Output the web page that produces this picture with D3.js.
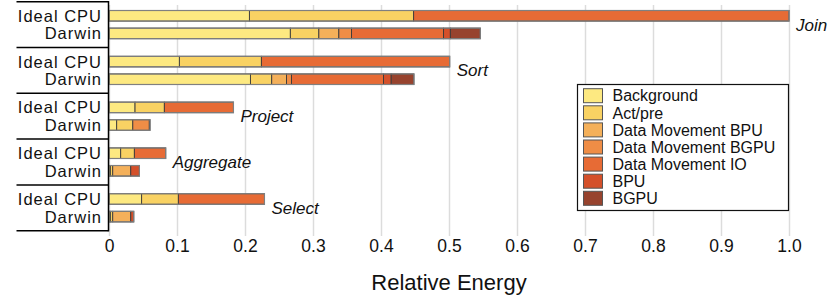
<!DOCTYPE html>
<html>
<head>
<meta charset="utf-8">
<script src="https://cdnjs.cloudflare.com/ajax/libs/d3/7.8.5/d3.min.js"></script>
<style>
  body { margin: 0; background: #fff; }
  svg { display: block; font-family: "Liberation Sans", Arimo, Helvetica, Arial, sans-serif; }
</style>
</head>
<body>
<div id="chart"></div>
<script>
// groups and the two systems per group
var groups = ["Join", "Sort", "Project", "Aggregate", "Select"];
var systems = ["Ideal CPU", "Darwin"];
var categories = ["Background", "Act/pre", "Data Movement BPU", "Data Movement BGPU",
                  "Data Movement IO", "BPU", "BGPU"];
var colors = ["#fde981", "#f9d263", "#f4b05a", "#ef8d46", "#e76b35", "#d4502a", "#97432e"];
var ticks = [0, 0.1, 0.2, 0.3, 0.4, 0.5, 0.6, 0.7, 0.8, 0.9, 1.0];

// one value per bar, order: Join Ideal, Join Darwin, Sort Ideal, Sort Darwin, ...
var background   = [0.2065, 0.2667, 0.1035, 0.208,  0.0383, 0.0113, 0.0172, 0.002,  0.048,  0.002];
var actPre       = [0.2415, 0.0419, 0.1206, 0.0313, 0.0431, 0.0237, 0.0201, 0.0035, 0.054,  0.0035];
var dmBPU        = [0,      0.0294, 0,      0.0217, 0,      0,      0,      0.0265, 0,      0.0265];
var dmBGPU       = [0,      0.0187, 0,      0.0073, 0,      0.0243, 0,      0,      0,      0];
var dmIO         = [0.552,  0.1353, 0.2769, 0.1354, 0.1016, 0,      0.0461, 0,      0.1266, 0];
var bpu          = [0,      0.010,  0,      0.0113, 0,      0.001,  0,      0.0127, 0,      0.0044];
var bgpu         = [0,      0.044,  0,      0.0334, 0,      0,      0,      0,      0,      0];

var series = [background, actPre, dmBPU, dmBGPU, dmIO, bpu, bgpu];

var width = 830, height = 299;
var svg = d3.select("#chart").append("svg")
  .attr("width", width)
  .attr("height", height);

// rows built from the arrays above
var rows = [];
groups.forEach(function(g, gi) {
  systems.forEach(function(s, si) {
    var row = {group: g, system: s};
    categories.forEach(function(c, ci) { row[c] = series[ci][gi * 2 + si]; });
    rows.push(row);
  });
});

var x = d3.scaleLinear().domain([0, 1]).range([109, 789]);
var yGroup = d3.scaleBand().domain(groups).range([1.7, 230.7]);
var ySys = d3.scaleBand().domain(systems).range([0, yGroup.bandwidth()])
  .paddingInner(0.4).paddingOuter(0.5);

// gridlines + tick labels
var axis = d3.axisBottom(x)
  .tickValues(ticks)
  .tickSize(-(236 - 5))
  .tickPadding(4)
  .tickFormat(function(d) { return d === 0 ? "0" : d3.format(".1f")(d); });
var axisG = svg.append("g")
  .attr("transform", "translate(0,236)")
  .call(axis);
axisG.select(".domain").remove();
axisG.selectAll(".tick line").attr("stroke", "#dcdcdc").attr("stroke-width", 1.5);
axisG.selectAll(".tick text")
  .attr("fill", "#111")
  .style("font-size", "17.5px")
  .style("font-family", "\"Liberation Sans\", Arimo, Helvetica, Arial, sans-serif");

svg.append("text")
  .attr("x", (x(0) + x(1)) / 2)
  .attr("y", 290)
  .attr("text-anchor", "middle")
  .style("font-size", "22px")
  .attr("fill", "#111")
  .text("Relative Energy");

// stacked bars
var stack = d3.stack().keys(categories);
var stacked = stack(rows);

var barG = svg.append("g");
stacked.forEach(function(layer, ci) {
  barG.selectAll(null)
    .data(layer.filter(function(d) { return d[1] - d[0] > 0; }))
    .enter()
    .append("rect")
    .attr("x", function(d) { return x(d[0]); })
    .attr("y", function(d) { return yGroup(d.data.group) + ySys(d.data.system); })
    .attr("width", function(d) { return x(d[1]) - x(d[0]); })
    .attr("height", ySys.bandwidth())
    .attr("fill", colors[ci])
    .attr("stroke", "#3a3a3a")
    .attr("stroke-width", 0.9);
});

// outline of whole bars
var totals = rows.map(function(r) {
  return {row: r, total: d3.sum(categories, function(c) { return r[c]; })};
});
barG.selectAll(".outline")
  .data(totals)
  .enter()
  .append("rect")
  .attr("class", "outline")
  .attr("x", x(0))
  .attr("y", function(d) { return yGroup(d.row.group) + ySys(d.row.system); })
  .attr("width", function(d) { return x(d.total) - x(0); })
  .attr("height", ySys.bandwidth())
  .attr("fill", "none")
  .attr("stroke", "#808080")
  .attr("stroke-width", 1.2);

// group names in italics after the longest bar
groups.forEach(function(g) {
  var maxTot = d3.max(totals.filter(function(t) { return t.row.group === g; }), function(t) { return t.total; });
  svg.append("text")
    .attr("x", x(maxTot) + 7)
    .attr("y", yGroup(g) + yGroup.bandwidth() / 2)
    .attr("dy", "0.35em")
    .style("font-size", "17px")
    .style("font-style", "italic")
    .attr("fill", "#111")
    .text(g);
});

// left label panel
var panel = svg.append("g");
yGroup.domain().forEach(function(g) {
  panel.append("line")
    .attr("x1", 16.5).attr("x2", 108.5)
    .attr("y1", yGroup(g)).attr("y2", yGroup(g))
    .attr("stroke", "#000").attr("stroke-width", 1.5);
  systems.forEach(function(s) {
    panel.append("text")
      .attr("x", 102)
      .attr("y", yGroup(g) + ySys(s) + ySys.bandwidth() / 2)
      .attr("dy", "0.36em")
      .attr("text-anchor", "end")
      .style("font-size", "16.5px")
      .style("letter-spacing", "1px")
      .attr("fill", "#111")
      .text(s);
  });
});
panel.append("line")
  .attr("x1", 16.5).attr("x2", 108.5)
  .attr("y1", 230.7).attr("y2", 230.7)
  .attr("stroke", "#000").attr("stroke-width", 1.5);
panel.append("line")
  .attr("x1", 108.5).attr("x2", 108.5)
  .attr("y1", 1).attr("y2", 231.4)
  .attr("stroke", "#000").attr("stroke-width", 1.5);

// legend
var legend = svg.append("g");
legend.append("rect")
  .attr("x", 577.5).attr("y", 84.5)
  .attr("width", 211).attr("height", 126)
  .attr("fill", "#fff")
  .attr("stroke", "#111").attr("stroke-width", 1.2);
categories.forEach(function(c, i) {
  var cy = 95.7 + i * 17.1;
  legend.append("rect")
    .attr("x", 583.5).attr("y", cy - 7)
    .attr("width", 19).attr("height", 14)
    .attr("fill", colors[i])
    .attr("stroke", "#555").attr("stroke-width", 1);
  legend.append("text")
    .attr("x", 612.5).attr("y", cy)
    .attr("dy", "0.36em")
    .style("font-size", "16px")
    .attr("fill", "#111")
    .text(c);
});
</script>
</body>
</html>
